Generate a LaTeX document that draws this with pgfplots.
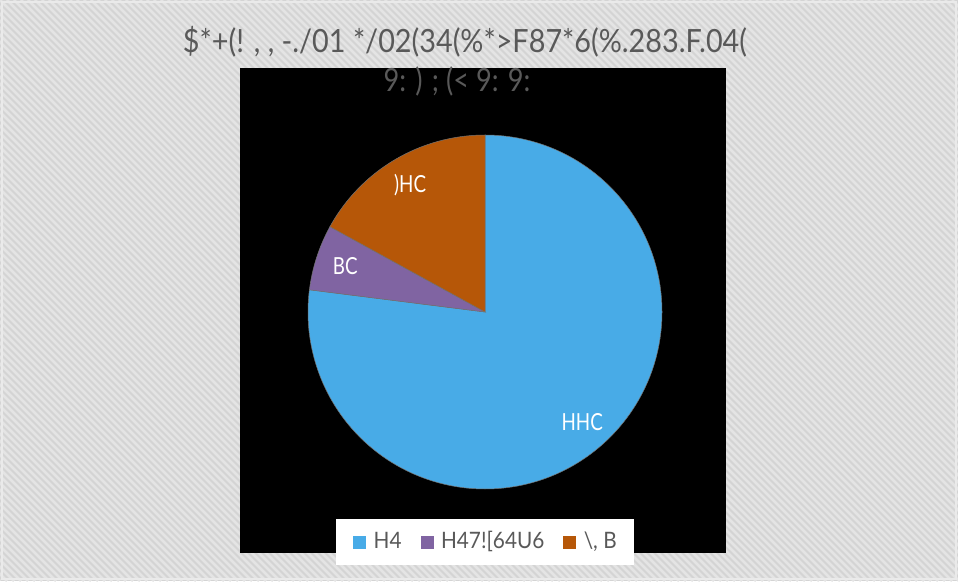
\documentclass[border=0pt]{standalone}
\usepackage{pgfplots}
\pgfplotsset{compat=1.18}
\usepackage{pgfplotstable}
\usepackage{graphicx}
\usepackage{fontspec}
\setmainfont{Lato}
\definecolor{pieblue}{HTML}{48ABE7}
\definecolor{piepurple}{HTML}{8064A2}
\definecolor{pieorange}{HTML}{B65708}
\definecolor{txtgray}{HTML}{595959}
\definecolor{bgbase}{HTML}{D4D4D4}
\definecolor{bgstripe}{HTML}{E4E4E4}
\definecolor{bgframe}{HTML}{EAEAEA}

\pgfplotstableread{
share
77
6
17
}\piedata
\pgfplotstablegetelem{0}{share}\of\piedata\let\vA\pgfplotsretval
\pgfplotstablegetelem{1}{share}\of\piedata\let\vB\pgfplotsretval
\pgfplotstablegetelem{2}{share}\of\piedata\let\vC\pgfplotsretval
\pgfmathsetmacro\sA{90}
\pgfmathsetmacro\eA{\sA-3.6*\vA}
\pgfmathsetmacro\eB{\eA-3.6*\vB}
\pgfmathsetmacro\eC{\eB-3.6*\vC}
\pgfmathsetmacro\mA{(\sA+\eA)/2}
\pgfmathsetmacro\mB{(\eA+\eB)/2}
\pgfmathsetmacro\mC{(\eB+\eC)/2}
\newcommand\cond[1]{\scalebox{0.8}[1]{#1}}
\newcommand\condL[1]{\scalebox{0.92}[1]{#1}}

\begin{document}
\begin{tikzpicture}[x=1pt,y=1pt]
\fill[bgbase] (0,0) rectangle (958,581);
\begin{scope}
\clip (0,0) rectangle (958,581);
\foreach \i in {-595,-588,...,965} \draw[bgstripe, line width=2.6pt] (\i,581) -- ++(581,-581);
\end{scope}
\draw[bgframe, line width=1.5pt] (2,2) rectangle (956,579);
\fill[black] (240,28) rectangle (726,513);
\node[anchor=base, text=txtgray, font=\fontsize{32}{38}\selectfont, inner sep=0pt] at (465,528) {\scalebox{0.9}[1]{\$*+(! , , -./01 */02(34(\%*>F87*6(\%.283.F.04(}};
\node[anchor=base, text=txtgray, font=\fontsize{32}{38}\selectfont, inner sep=0pt] at (457,489) {\scalebox{0.85}[1]{9: ) ; (< 9: 9:}};
\begin{axis}[
  at={(0,0)}, anchor=south west,
  x=1pt, y=1pt, xmin=0, xmax=958, ymin=0, ymax=581,
  scale only axis, hide axis, clip=false,
  legend columns=3,
  legend style={at={(axis cs:485,39)}, anchor=center, fill=white, draw=none,
    inner xsep=17pt, inner ysep=13pt,
    font=\fontsize{22.6}{26}\selectfont, text=txtgray,
    nodes={inner sep=0pt, text height=16pt, text depth=4pt},
    /tikz/every odd column/.append style={column sep=8pt},
    /tikz/every even column/.append style={column sep=19pt}},
  legend cell align=left,
]
\fill[pieblue, draw=black!55, line width=0.5pt] (axis cs:485,269) -- ++(\sA:177pt) arc[start angle=\sA, end angle=\eA, radius=177pt] -- cycle;
\fill[piepurple, draw=black!55, line width=0.5pt] (axis cs:485,269) -- ++(\eA:177pt) arc[start angle=\eA, end angle=\eB, radius=177pt] -- cycle;
\fill[pieorange, draw=black!55, line width=0.5pt] (axis cs:485,269) -- ++(\eB:177pt) arc[start angle=\eB, end angle=\eC, radius=177pt] -- cycle;
\path (axis cs:485,269) ++(\mA:147pt) node[text=white, font=\fontsize{23.5}{26}\selectfont] {\cond{HHC}};
\path (axis cs:485,269) ++(\mB:147pt) node[text=white, font=\fontsize{23.5}{26}\selectfont] {\cond{BC}};
\path (axis cs:485,269) ++(\mC:147pt) node[text=white, font=\fontsize{23.5}{26}\selectfont] {\cond{)HC}};
\addlegendimage{legend image code/.code={\fill[pieblue] (0pt,-6pt) rectangle (12pt,6pt);}}
\addlegendentry{\condL{H4}}
\addlegendimage{legend image code/.code={\fill[piepurple] (0pt,-6pt) rectangle (12pt,6pt);}}
\addlegendentry{\condL{H47![64U6}}
\addlegendimage{legend image code/.code={\fill[pieorange] (0pt,-6pt) rectangle (12pt,6pt);}}
\addlegendentry{\condL{\textbackslash, B}}
\end{axis}
\end{tikzpicture}
\end{document}
